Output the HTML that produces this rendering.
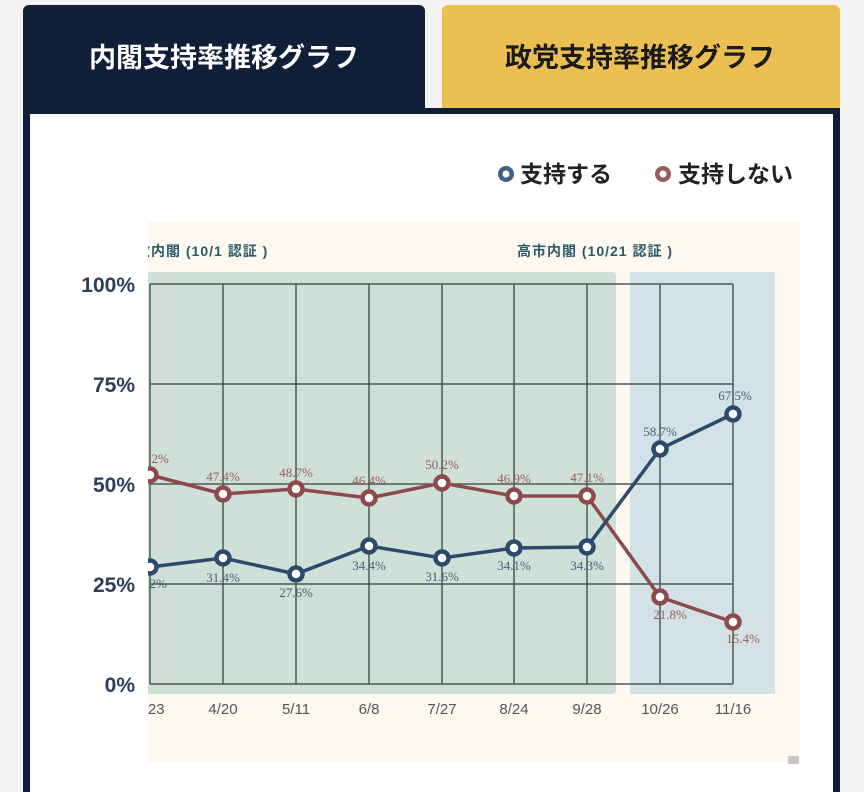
<!DOCTYPE html>
<html><head><meta charset="utf-8"><style>
html,body{margin:0;padding:0;background:#f3f3f3;width:864px;height:792px;overflow:hidden}
svg{display:block}
</style></head><body>
<svg width="864" height="792" xmlns="http://www.w3.org/2000/svg" font-family="'Liberation Sans','Noto Sans CJK JP',sans-serif">
<defs><clipPath id="c"><rect x="148" y="222" width="652" height="540"/></clipPath></defs>
<rect x="0" y="0" width="864" height="792" fill="#f3f3f3"/>
<rect x="23" y="5" width="402" height="120" rx="6" fill="#101e38"/>
<rect x="442" y="5" width="398" height="120" rx="6" fill="#ecbf52"/>
<rect x="23" y="108" width="817" height="700" fill="#101e38"/>
<rect x="30" y="114" width="803" height="700" fill="#ffffff"/>
<text x="224" y="67" fill="#fff" font-size="27" font-weight="bold" text-anchor="middle">内閣支持率推移グラフ</text>
<text x="640" y="67" fill="#1a1a1a" font-size="27" font-weight="bold" text-anchor="middle">政党支持率推移グラフ</text>
<circle cx="506" cy="174" r="8" fill="#45607e"/><circle cx="506" cy="174" r="3.5" fill="#fff"/>
<text x="520" y="182" font-size="23" font-weight="bold" fill="#222">支持する</text>
<circle cx="663" cy="174" r="8" fill="#9a5a58"/><circle cx="663" cy="174" r="3.5" fill="#fff"/>
<text x="678" y="182" font-size="23" font-weight="bold" fill="#222">支持しない</text>
<g font-size="21" font-weight="bold" fill="#2b3d5a" text-anchor="end">
<text x="135" y="292">100%</text><text x="135" y="392">75%</text><text x="135" y="492">50%</text><text x="135" y="592">25%</text><text x="135" y="692">0%</text>
</g>
<g clip-path="url(#c)">
<rect x="148" y="222" width="652" height="540" fill="#fdf8f0"/>
<rect x="130" y="272" width="486" height="422" rx="4" fill="#cfe0d8"/>
<rect x="630" y="272" width="145" height="422" fill="#d2e2e6"/>
<text x="136" y="256" font-size="14" font-weight="bold" fill="#2a5a66" letter-spacing="1">政内閣 (10/1 認証 )</text>
<text x="517" y="256" font-size="14" font-weight="bold" fill="#2a5a66" letter-spacing="1">高市内閣 (10/21 認証 )</text>
<g stroke="#4a5a50" stroke-width="1.5" fill="none">
<line x1="150" y1="284" x2="733" y2="284"/><line x1="150" y1="384" x2="733" y2="384"/><line x1="150" y1="484" x2="733" y2="484"/><line x1="150" y1="584" x2="733" y2="584"/><line x1="150" y1="684" x2="733" y2="684"/>
<line x1="150" y1="284" x2="150" y2="684"/><line x1="223" y1="284" x2="223" y2="684"/><line x1="296" y1="284" x2="296" y2="684"/><line x1="369" y1="284" x2="369" y2="684"/><line x1="442" y1="284" x2="442" y2="684"/><line x1="514" y1="284" x2="514" y2="684"/><line x1="587" y1="284" x2="587" y2="684"/><line x1="660" y1="284" x2="660" y2="684"/><line x1="733" y1="284" x2="733" y2="684"/>
</g>
<g font-size="15" fill="#555" text-anchor="middle">
<text x="150" y="714">3/23</text><text x="223" y="714">4/20</text><text x="296" y="714">5/11</text><text x="369" y="714">6/8</text><text x="442" y="714">7/27</text><text x="514" y="714">8/24</text><text x="587" y="714">9/28</text><text x="660" y="714">10/26</text><text x="733" y="714">11/16</text>
</g>
<polyline fill="none" stroke="#8e4a4a" stroke-width="3.5" points="150,475 223,494 296,489 369,498 442,483 514,496 587,496 660,597 733,622"/>
<polyline fill="none" stroke="#2e4a6b" stroke-width="3.5" points="150,567 223,558 296,574 369,546 442,558 514,548 587,547 660,449 733,414"/>
<g fill="#fff" stroke-width="4.5">
<g stroke="#8e4a4a"><circle cx="150" cy="475" r="6.5"/><circle cx="223" cy="494" r="6.5"/><circle cx="296" cy="489" r="6.5"/><circle cx="369" cy="498" r="6.5"/><circle cx="442" cy="483" r="6.5"/><circle cx="514" cy="496" r="6.5"/><circle cx="587" cy="496" r="6.5"/><circle cx="660" cy="597" r="6.5"/><circle cx="733" cy="622" r="6.5"/></g>
<g stroke="#2e4a6b"><circle cx="150" cy="567" r="6.5"/><circle cx="223" cy="558" r="6.5"/><circle cx="296" cy="574" r="6.5"/><circle cx="369" cy="546" r="6.5"/><circle cx="442" cy="558" r="6.5"/><circle cx="514" cy="548" r="6.5"/><circle cx="587" cy="547" r="6.5"/><circle cx="660" cy="449" r="6.5"/><circle cx="733" cy="414" r="6.5"/></g>
</g>
<g font-family="'Liberation Serif',serif" font-size="13" text-anchor="middle">
<g fill="#9a5c5a"><text x="152" y="463">52.2%</text><text x="223" y="481">47.4%</text><text x="296" y="477">48.7%</text><text x="369" y="485">46.4%</text><text x="442" y="469">50.2%</text><text x="514" y="483">46.9%</text><text x="587" y="482">47.1%</text><text x="670" y="619">21.8%</text><text x="743" y="643">15.4%</text></g>
<g fill="#4a6078"><text x="150" y="588">29.2%</text><text x="223" y="582">31.4%</text><text x="296" y="597">27.6%</text><text x="369" y="570">34.4%</text><text x="442" y="581">31.6%</text><text x="514" y="570">34.1%</text><text x="587" y="570">34.3%</text><text x="660" y="436">58.7%</text><text x="735" y="400">67.5%</text></g>
</g>
</g>
<rect x="788" y="756" width="11" height="8" fill="#c8c8c8"/>
</svg>
</body></html>
